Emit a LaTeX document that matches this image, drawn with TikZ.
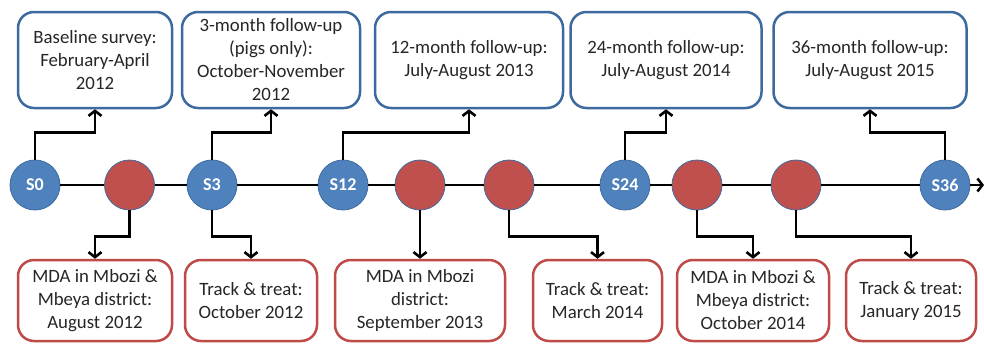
\documentclass[tikz,border=0pt]{standalone}
\usepackage{fontspec}
\setmainfont{Carlito}
\usetikzlibrary{arrows.meta}

\definecolor{visitblue}{HTML}{4F81BD}
\definecolor{treatred}{HTML}{C0504D}
\definecolor{ringblue}{HTML}{3E6BA0}
\definecolor{boxblue}{HTML}{3D6A9E}
\definecolor{boxred}{HTML}{BE4B48}

\tikzset{
  survey/.style={circle, minimum size=50pt, inner sep=0pt, fill=visitblue, draw=ringblue, line width=0.8pt,
    text=white, font=\fontsize{18}{20}\selectfont\bfseries},
  treat/.style={circle, minimum size=50pt, inner sep=0pt, fill=treatred, draw=ringblue, line width=0.8pt},
  topbox/.style={draw=boxblue, line width=2.5pt, rounded corners=16pt, fill=white, align=center,
    minimum height=96pt, inner sep=2pt, text=black!85, font=\fontsize{18.8}{23}\selectfont},
  botbox/.style={draw=boxred, line width=2.5pt, rounded corners=16pt, fill=white, align=center,
    minimum height=81pt, inner sep=2pt, text=black!85, font=\fontsize{18.8}{23}\selectfont},
  conn/.style={line width=2.8pt, -{Straight Barb[length=5pt, width=13pt, line width=2.6pt]}},
}

\begin{document}
\begin{tikzpicture}[x=1pt, y=-1pt]
  % Definizioni: quota della linea del tempo e dei riquadri
  \def\Tline{185}
  \def\Top{60}
  \def\Bot{300.5}

  \useasboundingbox (0,0) rectangle (984,343);

  % --- Cerchi sulla linea del tempo ---
  \node[survey] (s0)  at (35,\Tline)    {S0};
  \node[treat]  (r1)  at (129.5,\Tline) {};
  \node[survey] (s3)  at (212,\Tline)   {S3};
  \node[survey] (s12) at (343,\Tline)   {S12};
  \node[treat]  (r2)  at (420,\Tline)   {};
  \node[treat]  (r3)  at (509,\Tline)   {};
  \node[survey] (s24) at (625,\Tline)   {S24};
  \node[treat]  (r4)  at (697,\Tline)   {};
  \node[treat]  (r5)  at (796,\Tline)   {};
  \node[survey] (s36) at (945,\Tline)   {S36};
  \coordinate (tend) at (984,\Tline);

  % --- Linea del tempo ---
  \draw[line width=2.5pt] (s0) -- (r1) -- (s3) -- (s12) -- (r2) -- (r3) -- (s24) -- (r4) -- (r5) -- (s36);
  \draw[line width=2.5pt, -{Straight Barb[length=5pt, width=13pt, line width=2.5pt]}] (s36) -- (tend);

  % --- Riquadri in alto (indagini) ---
  \node[topbox, minimum width=154pt] (base) at (95,\Top)  {Baseline survey:\\February-April\\2012};
  \node[topbox, minimum width=178pt] (fu3)  at (271,\Top) {3-month follow-up\\(pigs only):\\October-November\\2012};
  \node[topbox, minimum width=188pt] (fu12) at (469,\Top) {12-month follow-up:\\July-August 2013};
  \node[topbox, minimum width=191pt] (fu24) at (666,\Top) {24-month follow-up:\\July-August 2014};
  \node[topbox, minimum width=193pt] (fu36) at (870,\Top) {36-month follow-up:\\July-August 2015};

  % --- Riquadri in basso (trattamenti) ---
  \node[botbox, minimum width=154pt] (mda1) at (95,\Bot)    {MDA in Mbozi \&\\Mbeya district:\\August 2012};
  \node[botbox, minimum width=132pt] (tt1)  at (251,\Bot)   {Track \& treat:\\October 2012};
  \node[botbox, minimum width=170pt] (mda2) at (420,\Bot)   {MDA in Mbozi\\district:\\September 2013};
  \node[botbox, minimum width=129pt] (tt2)  at (597.5,\Bot) {Track \& treat:\\March 2014};
  \node[botbox, minimum width=152pt] (mda3) at (753,\Bot)   {MDA in Mbozi \&\\Mbeya district:\\October 2014};
  \node[botbox, minimum width=130pt] (tt3)  at (911,\Bot)   {Track \& treat:\\January 2015};

  % --- Frecce verso l'alto ---
  \draw[conn] (s0.north)  -- ++(0,-27) -| (base.south);
  \draw[conn] (s3.north)  -- ++(0,-27) -| (fu3.south);
  \draw[conn] (s12.north) -- ++(0,-27) -| (fu12.south);
  \draw[conn] (s24.north) -- ++(0,-27) -| (fu24.south);
  \draw[conn] (s36.north) -- ++(0,-27) -| (fu36.south);

  % --- Frecce verso il basso ---
  \draw[conn] (r1.south)  -- ++(0,26) -| (mda1.north);
  \draw[conn] (s3.south)  -- ++(0,26) -| (tt1.north);
  \draw[conn] (r2.south)  -- (mda2.north);
  \draw[conn] (r3.south)  -- ++(0,26) -| (tt2.north);
  \draw[conn] (r4.south)  -- ++(0,26) -| (mda3.north);
  \draw[conn] (r5.south)  -- ++(0,26) -| (tt3.north);
\end{tikzpicture}
\end{document}
